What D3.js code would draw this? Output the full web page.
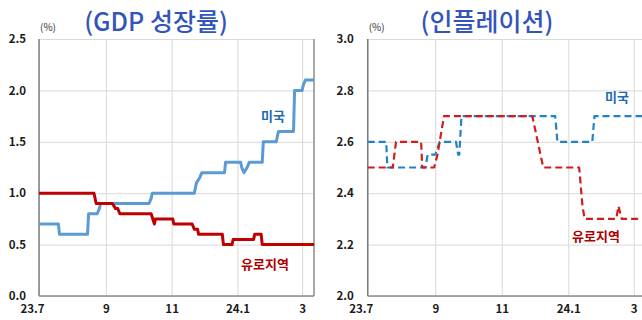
<!DOCTYPE html>
<html><head><meta charset="utf-8">
<script src="https://cdn.jsdelivr.net/npm/d3@7"></script>
<style>
html,body{margin:0;padding:0;background:#fff;}
svg{display:block;}
text{font-family:"Noto Sans CJK KR","Noto Sans",sans-serif;}
</style></head>
<body>
<svg id="c" width="642" height="320"></svg>
<script>
// ---- data ----
const xTickDates = ["2023-07-01","2023-09-01","2023-11-01","2024-01-01","2024-03-01"];
const xTickLabels = ["23.7","9","11","24.1","3"];
const xDomain = ["2023-07-01","2024-03-12"];

const gdpTicks = [0,0.5,1.0,1.5,2.0,2.5];
const inflTicks = [2.0,2.2,2.4,2.6,2.8,3.0];

const gdpUS = [
 ["2023-07-01",0.7],["2023-07-19",0.7],["2023-07-20",0.6],["2023-08-15",0.6],["2023-08-16",0.8],
 ["2023-08-24",0.8],["2023-08-26",0.85],["2023-08-27",0.9],["2023-10-11",0.9],["2023-10-13",0.95],
 ["2023-10-14",1.0],["2023-11-22",1.0],["2023-11-24",1.1],["2023-11-27",1.15],["2023-11-29",1.2],
 ["2023-12-20",1.2],["2023-12-21",1.3],["2024-01-04",1.3],["2024-01-05",1.25],["2024-01-07",1.2],
 ["2024-01-10",1.25],["2024-01-12",1.3],["2024-01-24",1.3],["2024-01-25",1.5],["2024-02-06",1.5],
 ["2024-02-07",1.55],["2024-02-08",1.6],["2024-02-22",1.6],["2024-02-23",2.0],["2024-03-01",2.0],
 ["2024-03-02",2.05],["2024-03-04",2.1],["2024-03-12",2.1]
];
const gdpEU = [
 ["2023-07-01",1.0],["2023-08-21",1.0],["2023-08-23",0.9],["2023-09-07",0.9],["2023-09-10",0.85],
 ["2023-09-12",0.85],["2023-09-14",0.8],["2023-10-13",0.8],["2023-10-16",0.7],["2023-10-17",0.75],
 ["2023-11-02",0.75],["2023-11-03",0.7],["2023-11-20",0.7],["2023-11-22",0.65],["2023-11-25",0.65],
 ["2023-11-26",0.6],["2023-12-18",0.6],["2023-12-19",0.5],["2023-12-27",0.5],["2023-12-28",0.55],
 ["2024-01-16",0.55],["2024-01-17",0.6],["2024-01-23",0.6],["2024-01-24",0.5],["2024-03-12",0.5]
];
const inflUS = [
 ["2023-07-01",2.6],["2023-07-18",2.6],["2023-07-19",2.5],["2023-08-23",2.5],["2023-08-25",2.55],
 ["2023-09-01",2.55],["2023-09-05",2.6],["2023-09-20",2.6],["2023-09-22",2.55],["2023-09-23",2.55],
 ["2023-09-25",2.7],["2023-12-20",2.7],["2023-12-22",2.6],["2024-01-23",2.6],["2024-01-25",2.7],
 ["2024-03-12",2.7]
];
const inflEU = [
 ["2023-07-01",2.5],["2023-07-24",2.5],["2023-07-27",2.6],["2023-08-19",2.6],["2023-08-20",2.5],
 ["2023-08-31",2.5],["2023-09-03",2.55],["2023-09-09",2.7],["2023-11-29",2.7],["2023-12-04",2.6],
 ["2023-12-09",2.5],["2024-01-11",2.5],["2024-01-14",2.35],["2024-01-16",2.3],["2024-02-14",2.3],
 ["2024-02-16",2.35],["2024-02-19",2.3],["2024-03-12",2.3]
];

// ---- drawing ----
const parse = d3.timeParse("%Y-%m-%d");
const svg = d3.select("#c");

function panel(opt){
  const g = svg.append("g");
  const x = d3.scaleTime().domain(xDomain.map(parse)).range([opt.x0, opt.x1]);
  const y = d3.scaleLinear().domain(opt.yDomain).range([296, 39]);
  // grid
  g.append("g").attr("transform",`translate(0,0)`)
    .call(d3.axisLeft(y).tickValues(opt.ticks).tickSize(-(opt.x1-opt.x0)).tickFormat(""))
    .attr("transform",`translate(${opt.x0},0)`)
    .call(s=>s.select(".domain").remove())
    .call(s=>s.selectAll("line").attr("stroke","#d9d9d9").attr("stroke-width",1));
  g.append("g").attr("transform","translate(0,296)")
    .call(d3.axisBottom(x).tickValues(xTickDates.map(parse)).tickSize(-257).tickFormat(""))
    .call(s=>s.select(".domain").remove())
    .call(s=>s.selectAll("line").attr("stroke","#d9d9d9").attr("stroke-width",1));
  // frame
  g.append("line").attr("x1",opt.x0).attr("x2",opt.x0).attr("y1",39).attr("y2",296).attr("stroke","#7f7f7f").attr("stroke-width",1.5);
  g.append("line").attr("x1",opt.x0).attr("x2",opt.x1).attr("y1",296).attr("y2",296).attr("stroke","#8c8c8c").attr("stroke-width",1.5);
  g.append("line").attr("x1",opt.x1).attr("x2",opt.x1).attr("y1",39).attr("y2",296).attr("stroke","#8c8c8c").attr("stroke-width",1.5);
  // y labels
  g.append("g").attr("transform",`translate(${opt.x0},0)`)
    .call(d3.axisLeft(y).tickValues(opt.ticks).tickSize(0).tickPadding(opt.ypad).tickFormat(d3.format(".1f")))
    .call(s=>s.select(".domain").remove())
    .call(s=>s.selectAll("text").attr("font-size",11.5).attr("font-weight","bold").attr("fill","#1a1a1a")
      .style("font-family","'Noto Sans CJK KR',sans-serif"));
  // x labels
  g.append("g").attr("transform","translate(0,296)")
    .call(d3.axisBottom(x).tickValues(xTickDates.map(parse)).tickSize(0).tickPadding(9)
      .tickFormat((d,i)=>xTickLabels[i]))
    .call(s=>s.select(".domain").remove())
    .call(s=>s.selectAll("text").attr("font-size",11.5).attr("font-weight","bold").attr("fill","#1a1a1a")
      .style("font-family","'Noto Sans CJK KR',sans-serif")
      .attr("dx",(d,i)=>i===0?-7:0));
  // series
  const line = d3.line().x(d=>x(parse(d[0]))).y(d=>y(d[1]));
  opt.series.forEach(s=>{
    g.append("path").datum(s.data).attr("d",line).attr("fill","none")
      .attr("stroke",s.color).attr("stroke-width",s.width)
      .attr("stroke-dasharray",s.dash||null).attr("stroke-linejoin","round");
  });
  // titles
  g.append("text").attr("x",opt.titleX).attr("y",31).attr("text-anchor","middle")
    .attr("font-size",25).attr("fill","#3355bb").attr("font-weight",500).text(opt.title);
  g.append("text").attr("x",opt.x0+1).attr("y",31).attr("font-size",10).attr("fill","#333").text("(%)");
  opt.labels.forEach(l=>{
    g.append("text").attr("x",l.x).attr("y",l.y).attr("font-size",13).attr("font-weight","bold")
      .attr("fill",l.color).attr("dominant-baseline","middle").text(l.text);
  });
}

panel({x0:39,x1:314,yDomain:[0,2.5],ticks:gdpTicks,ypad:13,titleX:156,title:"(GDP 성장률)",
  series:[{data:gdpUS,color:"#5b9bd5",width:3},{data:gdpEU,color:"#c00000",width:3}],
  labels:[{x:261,y:117,text:"미국",color:"#1f6bb0"},{x:241,y:265,text:"유로지역",color:"#b00000"}]});
panel({x0:367.7,x1:645.7,yDomain:[2.0,3.0],ticks:inflTicks,ypad:14,titleX:487,title:"(인플레이션)",
  series:[{data:inflUS,color:"#2282c8",width:2.2,dash:"7,4"},{data:inflEU,color:"#d01c1c",width:2.2,dash:"7,4"}],
  labels:[{x:605,y:98,text:"미국",color:"#1f6bb0"},{x:572,y:237,text:"유로지역",color:"#b00000"}]});
</script>
</body></html>
